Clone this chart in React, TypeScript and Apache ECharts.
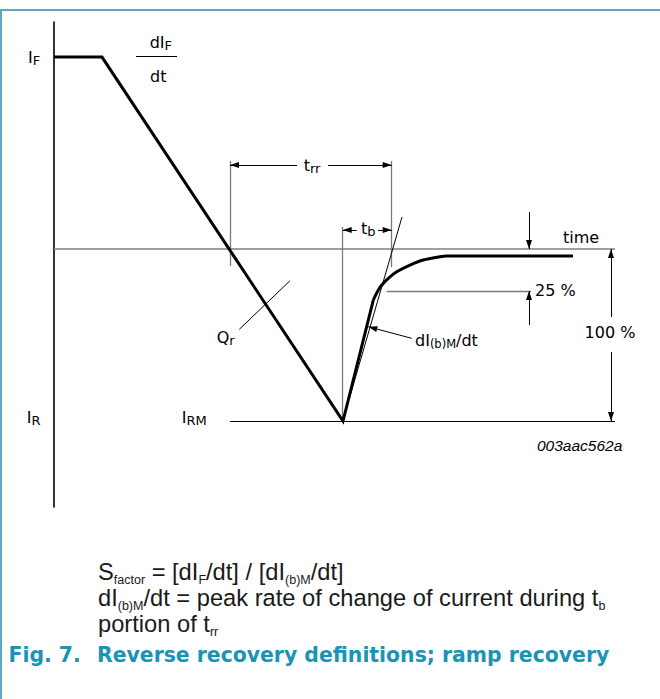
import React, { useEffect, useRef } from "react";
import * as echarts from "echarts";

// ---- Waveform (time units, current in % of I_RM) ----
const fallTime = [0, 4.8, 28.9, 31.93];
const fallCurrent = [111.6, 111.6, -100, -29.65];
const recoveryTime = [31.93, 32.6, 33.43, 34.27, 35.6, 36.93, 38.6, 39.27, 51.9];
const recoveryCurrent = [-29.65, -22.27, -17.04, -13.2, -9.3, -6.4, -4.48, -4.07, -4.07];

// ---- Construction lines: [t1, i1, t2, i2] ----
const timeAxisLine = [[0, 0, 56.1, 0]];
const greyLines = [
  [17.6, 51.17, 17.6, -9.88],
  [33.77, 51.17, 33.77, -10.47],
  [28.87, 12.79, 28.87, -100],
  [33.27, -24.42, 47.7, -24.42],
];
const blackLines = [
  [34.8, 18.6, 29.55, -86.6],
  [23.6, -18.43, 18.53, -46.69],
  [17.6, -100, 56.1, -100],
  [8.2, 111.8, 12.3, 111.8],
];
const arrowLines = [
  [24.3, 48.84, 17.6, 48.84],
  [27.4, 48.84, 33.77, 48.84],
  [30.27, 11.05, 28.87, 11.05],
  [32.4, 11.05, 33.77, 11.05],
  [47.5, 21.51, 47.5, 0],
  [47.5, -44.19, 47.5, -24.42],
  [55.7, -39.54, 55.7, 0],
  [55.7, -59.89, 55.7, -100],
  [35.77, -51.92, 31.43, -45.18],
];

// ---- Labels ----
const labelTexts = [
  "{m|I}{s|F}",
  "{m|dI}{s|F}",
  "dt",
  "{m|t}{s|rr}",
  "{m|t}{s|b}",
  "time",
  "25 %",
  "{m|dI}{x|(b)M}{m|/dt}",
  "100 %",
  "{m|Q}{s|r}",
  "{m|I}{s|R}",
  "{m|I}{s|RM}",
  "{i|003aac562a}",
];
const labelTime = [-2.6, 10.68, 10.43, 25.8, 31.43, 50.9, 48.1, 36.1, 55.6, 16.27, -2.73, 12.77, 48.3];
const labelCurrent = [111.4, 120.1, 100.1, 48.8, 12, 6.74, -23.9, -53.4, -48.5, -51.4, -97.9, -97.9, -114.4];
const labelAlign = ["left", "center", "center", "center", "center", "left", "left", "left", "center", "left", "left", "left", "left"];

const noteLines = [
  "{m|S}{s|factor}{m| = [dI}{s|F}{m|/dt] / [dI}{s|(b)M}{m|/dt]}",
  "{m|dI}{s|(b)M}{m|/dt = peak rate of change of current during t}{s|b}",
  "{m|portion of t}{s|rr}",
];
const captionNumber = "Fig. 7.";
const captionTitle = "Reverse recovery definitions; ramp recovery";

const LABEL_FONT = "DejaVu Sans";
const BODY_FONT = "Liberation Sans, Arial, sans-serif";

function seg(lines: number[][], arrow: boolean) {
  return lines.map((l) => [
    { coord: [l[0], l[1]], symbol: "none" },
    arrow
      ? { coord: [l[2], l[3]], symbol: "triangle", symbolSize: [6, 9], symbolOffset: [0, 4.5] }
      : { coord: [l[2], l[3]], symbol: "none" },
  ]);
}

function markLineSeries(name: string, lines: number[][], color: string, width: number, arrow: boolean) {
  return {
    name,
    type: "line",
    data: [],
    silent: true,
    z: 2,
    markLine: {
      silent: true,
      animation: false,
      symbol: ["none", arrow ? "triangle" : "none"],
      label: { show: false },
      emphasis: { disabled: true },
      lineStyle: { color, width, type: "solid" },
      itemStyle: { color },
      data: seg(lines, arrow),
    },
  };
}

export default function App() {
  const ref = useRef<HTMLDivElement>(null);

  useEffect(() => {
    if (!ref.current) return;
    const chart = echarts.init(ref.current, null, { renderer: "svg", width: 660, height: 699 });

    const labelRich = {
      m: { fontFamily: LABEL_FONT, fontSize: 16, lineHeight: 18, color: "#000" },
      s: { fontFamily: LABEL_FONT, fontSize: 13, lineHeight: 14, padding: [7, 0, 0, 0], color: "#000" },
      x: { fontFamily: LABEL_FONT, fontSize: 11.5, lineHeight: 13, padding: [6, 0, 0, 0], color: "#000" },
      i: { fontFamily: BODY_FONT, fontStyle: "italic", fontSize: 15.5, color: "#000" },
    };

    const bodyRich = {
      m: { fontFamily: BODY_FONT, fontSize: 23.7, lineHeight: 24, fill: "#1a1a1a" },
      s: { fontFamily: BODY_FONT, fontSize: 12.5, lineHeight: 13, padding: [15, 0, 0, 0], fill: "#1a1a1a" },
    };
    const noteY = [572, 598, 624];

    const option: any = {
      animation: false,
      backgroundColor: "#ffffff",
      grid: { left: 4, top: 22, width: 615, height: 485, containLabel: false },
      xAxis: {
        type: "value",
        min: -5,
        max: 56.5,
        axisLine: { show: false },
        axisTick: { show: false },
        axisLabel: { show: false },
        splitLine: { show: false },
      },
      yAxis: {
        type: "value",
        min: -150,
        max: 132,
        axisLine: { show: true, onZero: true, lineStyle: { color: "#000", width: 1.6 } },
        axisTick: { show: false },
        axisLabel: { show: false },
        splitLine: { show: false },
      },
      series: [
        markLineSeries("timeAxis", timeAxisLine, "#7f7f7f", 1.6, false),
        markLineSeries("guides", greyLines, "#7a7a7a", 1.3, false),
        markLineSeries("thin", blackLines, "#000", 1, false),
        markLineSeries("arrows", arrowLines, "#000", 1, true),
        {
          name: "fall",
          type: "line",
          data: fallTime.map((t, i) => [t, fallCurrent[i]]),
          showSymbol: false,
          symbol: "none",
          silent: true,
          z: 5,
          lineStyle: { color: "#000", width: 3, join: "miter" },
        },
        {
          name: "recovery",
          type: "line",
          data: recoveryTime.map((t, i) => [t, recoveryCurrent[i]]),
          showSymbol: false,
          symbol: "none",
          smooth: 0.35,
          silent: true,
          z: 5,
          lineStyle: { color: "#000", width: 3 },
        },
        {
          name: "labels",
          type: "line",
          data: [],
          silent: true,
          z: 6,
          markPoint: {
            silent: true,
            animation: false,
            symbol: "circle",
            symbolSize: 1,
            itemStyle: { color: "rgba(0,0,0,0)" },
            label: {
              show: true,
              position: "inside",
              fontFamily: LABEL_FONT,
              fontSize: 16,
              color: "#000",
              verticalAlign: "middle",
              rich: labelRich,
            },
            data: labelTexts.map((txt, i) => ({
              name: "l" + i,
              coord: [labelTime[i], labelCurrent[i]],
              label: { formatter: txt, align: labelAlign[i] },
            })),
          },
        },
      ],
      graphic: [
        {
          type: "rect",
          silent: true,
          shape: { x: 1, y: 10, width: 700, height: 700 },
          style: { fill: "none", stroke: "#5aa9c1", lineWidth: 2 },
        },
        ...noteLines.map((txt, i) => ({
          type: "text",
          silent: true,
          x: 98,
          y: noteY[i],
          style: {
            text: txt,
            rich: bodyRich,
            fontFamily: BODY_FONT,
            fontSize: 23.7,
            fill: "#1a1a1a",
            align: "left",
            verticalAlign: "middle",
          },
        })),
        {
          type: "text",
          silent: true,
          x: 8.5,
          y: 655,
          style: {
            text: captionNumber,
            fontFamily: LABEL_FONT,
            fontWeight: "bold",
            fontSize: 20.4,
            fill: "#1b93b5",
            align: "left",
            verticalAlign: "middle",
          },
        },
        {
          type: "text",
          silent: true,
          x: 97,
          y: 655,
          style: {
            text: captionTitle,
            fontFamily: LABEL_FONT,
            fontWeight: "bold",
            fontSize: 20.4,
            fill: "#1b93b5",
            align: "left",
            verticalAlign: "middle",
          },
        },
      ],
    };

    chart.setOption(option);
    return () => chart.dispose();
  }, []);

  return (
    <div
      ref={ref}
      style={{ position: "fixed", left: 0, top: 0, width: 660, height: 699, background: "#fff" }}
    />
  );
}
